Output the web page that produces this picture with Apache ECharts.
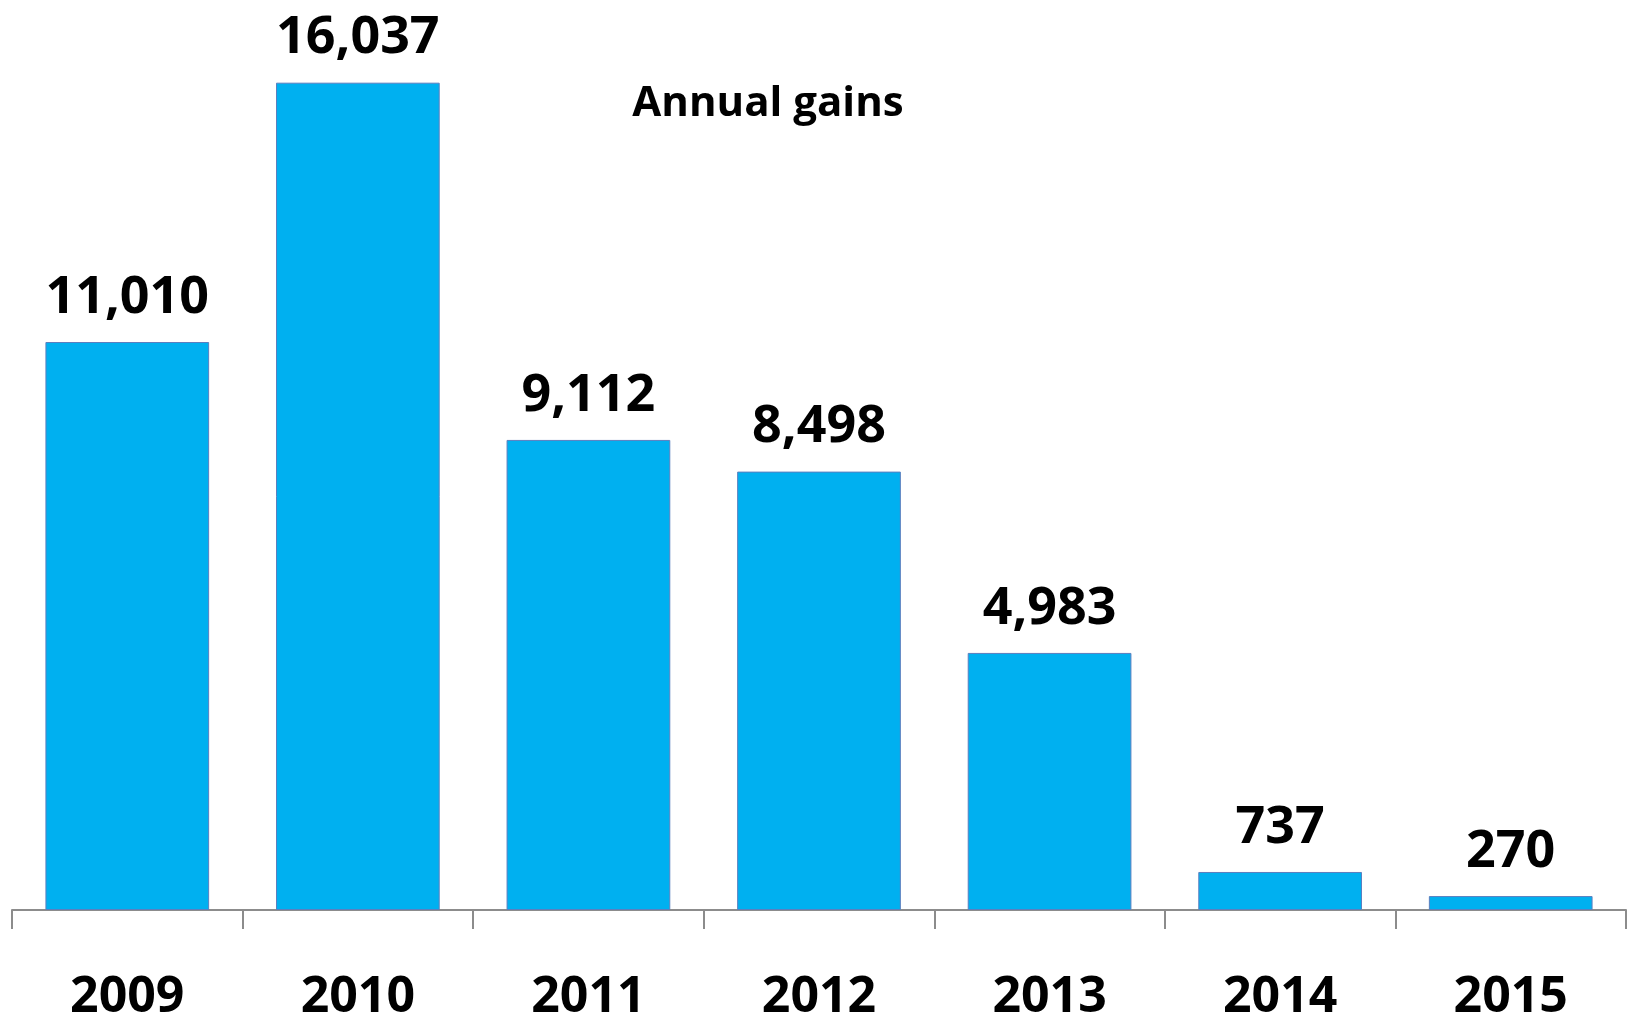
<!DOCTYPE html>
<html>
<head>
<meta charset="utf-8">
<script src="https://cdn.jsdelivr.net/npm/echarts@6/dist/echarts.min.js"></script>
<style>
  html, body { margin: 0; padding: 0; background: #fff; }
  #chart { width: 1631px; height: 1017px; }
</style>
</head>
<body>
<div id="chart"></div>
<script>
const years = ['2009', '2010', '2011', '2012', '2013', '2014', '2015']
const gains = [11010, 16037, 9112, 8498, 4983, 737, 270]
const chartTitle = 'Annual gains'

const chart = echarts.init(document.getElementById('chart'))

const fontFamily = '"Open Sans", "Noto Sans", sans-serif'

chart.setOption({
  animation: false,
  title: {
    text: chartTitle,
    left: 763,
    top: 78,
    textAlign: 'center',
    textStyle: { fontFamily, fontSize: 42, fontWeight: 'bold', color: '#000' },
  },
  grid: {
    left: 12,
    right: 5,
    top: 33,
    bottom: 107,
    outerBoundsMode: 'none',
  },
  xAxis: {
    type: 'category',
    data: years,
    boundaryGap: true,
    axisLine: { lineStyle: { color: '#8c8c8c', width: 2 } },
    axisTick: { show: true, length: 19, alignWithLabel: false, lineStyle: { color: '#8c8c8c', width: 2 } },
    axisLabel: {
      margin: 63,
      color: '#000',
      fontFamily,
      fontSize: 50,
      fontWeight: 'bold',
    },
  },
  yAxis: {
    type: 'value',
    min: 0,
    max: 17000,
    show: false,
    splitLine: { show: false },
  },
  series: [
    {
      type: 'bar',
      data: gains,
      barWidth: '71%',
      itemStyle: { color: '#00B0F0', borderColor: '#5B7FBF', borderWidth: 1 },
      label: {
        show: true,
        position: 'top',
        distance: 18,
        color: '#000',
        fontFamily,
        fontSize: 52,
        fontWeight: 'bold',
        formatter: (p) => p.value.toLocaleString('en-US'),
      },
    },
  ],
})
</script>
</body>
</html>
